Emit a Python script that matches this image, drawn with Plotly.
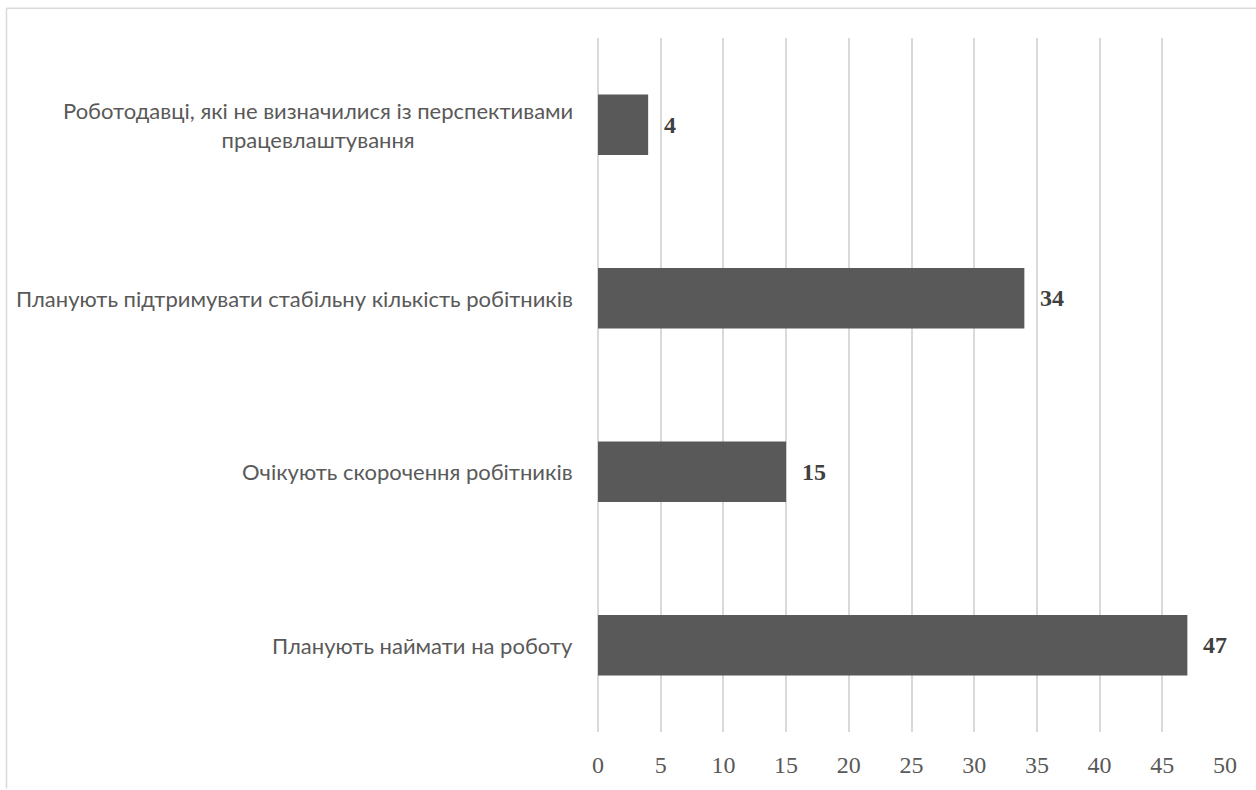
import plotly.graph_objects as go

categories = [
    "Роботодавці, які не визначилися із перспективами<br>працевлаштування",
    "Планують підтримувати стабільну кількість робітників",
    "Очікують скорочення робітників",
    "Планують наймати на роботу",
]
values = [4, 34, 15, 47]
x_ticks = [0, 5, 10, 15, 20, 25, 30, 35, 40, 45, 50]

W, H = 1256, 790
L, R, T, B = 598, 31, 38, 52
pw, ph = W - L - R, H - T - B

fig = go.Figure()
fig.add_trace(go.Bar(
    y=list(range(len(categories))), x=values, orientation="h",
    marker=dict(color="#595959", line=dict(width=0)),
    width=0.35, hoverinfo="skip",
))

annotations = []
for i, (c, v) in enumerate(zip(categories, values)):
    annotations.append(dict(
        x=0, y=i, xref="x", yref="y", text=c, showarrow=False,
        xanchor="right", yanchor="middle", align="center", xshift=-23,
        font=dict(family="Lato", size=22, color="#595959"),
    ))
    annotations.append(dict(
        x=v, y=i, xref="x", yref="y", text=f"<b>{v}</b>", showarrow=False,
        xanchor="left", yanchor="middle", xshift=14,
        font=dict(family="Liberation Serif", size=24, color="#404040"),
    ))

fig.update_layout(
    width=W, height=H,
    margin=dict(l=L, r=R, t=T, b=B),
    paper_bgcolor="white", plot_bgcolor="white",
    showlegend=False,
    annotations=annotations,
    xaxis=dict(
        range=[0, 50], tickvals=x_ticks, ticktext=[str(t) for t in x_ticks],
        showgrid=True, gridcolor="#d9d9d9", gridwidth=1.5,
        zeroline=True, zerolinecolor="#d9d9d9", zerolinewidth=1.5,
        showline=False, ticks="",
        ticklabelstandoff=16,
        tickfont=dict(family="Liberation Serif", size=24, color="#595959"),
    ),
    yaxis=dict(
        range=[3.5, -0.5], showticklabels=False, showgrid=False,
        zeroline=False, showline=False,
    ),
    shapes=[
        dict(type="line", xref="paper", yref="paper",
             x0=(6.5 - L) / pw, x1=(W + 5 - L) / pw,
             y0=1 + (T - 8) / ph, y1=1 + (T - 8) / ph,
             line=dict(color="#d9d9d9", width=1.5)),
        dict(type="line", xref="paper", yref="paper",
             x0=(6.5 - L) / pw, x1=(6.5 - L) / pw,
             y0=1 + (T - 8) / ph, y1=-(B + 5) / ph,
             line=dict(color="#d9d9d9", width=1.5)),
    ],
)

fig.write_html(
    "out.html",
    config={"displayModeBar": False},
    post_script="document.body.style.margin='0';document.body.style.overflow='hidden';",
)
